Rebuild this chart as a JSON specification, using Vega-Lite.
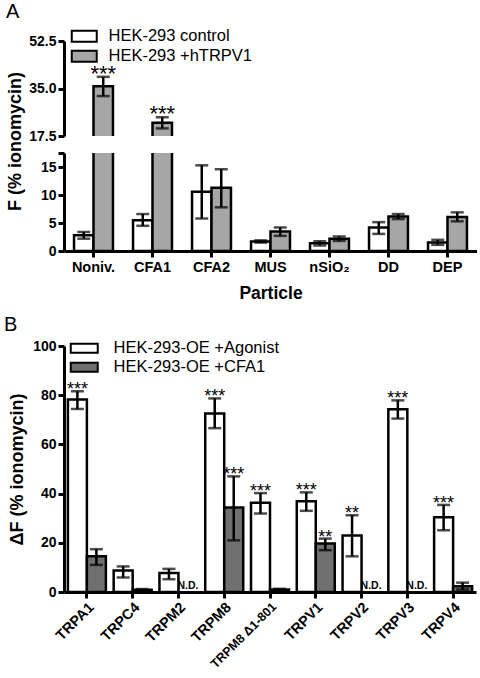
{
  "$schema": "https://vega.github.io/schema/vega-lite/v6.json",
  "background": "white",
  "padding": {"left": 4, "top": 2, "right": 0, "bottom": 0},
  "config": {
    "view": {"stroke": null},
    "font": "Liberation Sans",
    "axis": {
      "domainColor": "black", "domainWidth": 3, "tickColor": "black", "tickWidth": 3, "tickSize": 6,
      "labelColor": "black", "labelFont": "Liberation Sans", "labelFontWeight": "bold", "labelFontSize": 14,
      "titleColor": "black", "titleFont": "Liberation Sans", "titleFontWeight": "bold", "titleFontSize": 18,
      "grid": false, "labelPadding": 2, "labelOverlap": false
    },
    "axisY": {"minExtent": 36, "maxExtent": 36, "labelOverlap": false},
    "tick": {"thickness": 2.5},
    "title": {"font": "Liberation Sans", "fontWeight": "normal", "fontSize": 20, "color": "black", "anchor": "start", "frame": "group"}
  },
  "datasets": {
    "a": [
      {"cat": "Noniv.", "grp": "HEK-293 control", "mean": 2.8, "lo": 2.2, "hi": 3.4, "sig": ""},
      {"cat": "Noniv.", "grp": "HEK-293 +hTRPV1", "mean": 35.8, "lo": 32.2, "hi": 39.3, "sig": "***"},
      {"cat": "CFA1", "grp": "HEK-293 control", "mean": 5.5, "lo": 4.5, "hi": 6.6, "sig": ""},
      {"cat": "CFA1", "grp": "HEK-293 +hTRPV1", "mean": 22.4, "lo": 20.3, "hi": 24.4, "sig": "***"},
      {"cat": "CFA2", "grp": "HEK-293 control", "mean": 10.6, "lo": 5.8, "hi": 15.3, "sig": ""},
      {"cat": "CFA2", "grp": "HEK-293 +hTRPV1", "mean": 11.3, "lo": 7.8, "hi": 14.6, "sig": ""},
      {"cat": "MUS", "grp": "HEK-293 control", "mean": 1.7, "lo": 1.5, "hi": 1.9, "sig": ""},
      {"cat": "MUS", "grp": "HEK-293 +hTRPV1", "mean": 3.5, "lo": 2.7, "hi": 4.2, "sig": ""},
      {"cat": "nSiO₂", "grp": "HEK-293 control", "mean": 1.4, "lo": 1.0, "hi": 1.75, "sig": ""},
      {"cat": "nSiO₂", "grp": "HEK-293 +hTRPV1", "mean": 2.2, "lo": 1.8, "hi": 2.6, "sig": ""},
      {"cat": "DD", "grp": "HEK-293 control", "mean": 4.2, "lo": 3.05, "hi": 5.15, "sig": ""},
      {"cat": "DD", "grp": "HEK-293 +hTRPV1", "mean": 6.15, "lo": 5.7, "hi": 6.6, "sig": ""},
      {"cat": "DEP", "grp": "HEK-293 control", "mean": 1.5, "lo": 1.1, "hi": 2.0, "sig": ""},
      {"cat": "DEP", "grp": "HEK-293 +hTRPV1", "mean": 6.05, "lo": 5.3, "hi": 6.9, "sig": ""}
    ],
    "b": [
      {"cat": "TRPA1", "grp": "HEK-293-OE +Agonist", "mean": 78.3, "lo": 74.4, "hi": 81.6, "sig": "***", "nd": ""},
      {"cat": "TRPA1", "grp": "HEK-293-OE +CFA1", "mean": 14.5, "lo": 11.0, "hi": 17.4, "sig": "", "nd": ""},
      {"cat": "TRPC4", "grp": "HEK-293-OE +Agonist", "mean": 8.7, "lo": 5.9, "hi": 10.4, "sig": "", "nd": ""},
      {"cat": "TRPC4", "grp": "HEK-293-OE +CFA1", "mean": 0.9, "lo": 0.6, "hi": 1.2, "sig": "", "nd": ""},
      {"cat": "TRPM2", "grp": "HEK-293-OE +Agonist", "mean": 7.7, "lo": 5.2, "hi": 9.4, "sig": "", "nd": ""},
      {"cat": "TRPM2", "grp": "HEK-293-OE +CFA1", "mean": null, "lo": null, "hi": null, "sig": "", "nd": "N.D."},
      {"cat": "TRPM8", "grp": "HEK-293-OE +Agonist", "mean": 72.6, "lo": 66.6, "hi": 78.7, "sig": "***", "nd": ""},
      {"cat": "TRPM8", "grp": "HEK-293-OE +CFA1", "mean": 34.3, "lo": 21.0, "hi": 47.0, "sig": "***", "nd": ""},
      {"cat": "TRPM8 Δ1-801", "grp": "HEK-293-OE +Agonist", "mean": 36.3, "lo": 31.9, "hi": 40.2, "sig": "***", "nd": ""},
      {"cat": "TRPM8 Δ1-801", "grp": "HEK-293-OE +CFA1", "mean": 1.0, "lo": 0.7, "hi": 1.3, "sig": "", "nd": ""},
      {"cat": "TRPV1", "grp": "HEK-293-OE +Agonist", "mean": 36.9, "lo": 33.0, "hi": 40.5, "sig": "***", "nd": ""},
      {"cat": "TRPV1", "grp": "HEK-293-OE +CFA1", "mean": 19.7, "lo": 17.0, "hi": 21.7, "sig": "**", "nd": ""},
      {"cat": "TRPV2", "grp": "HEK-293-OE +Agonist", "mean": 23.0, "lo": 14.5, "hi": 31.2, "sig": "**", "nd": ""},
      {"cat": "TRPV2", "grp": "HEK-293-OE +CFA1", "mean": null, "lo": null, "hi": null, "sig": "", "nd": "N.D."},
      {"cat": "TRPV3", "grp": "HEK-293-OE +Agonist", "mean": 74.3, "lo": 70.5, "hi": 77.9, "sig": "***", "nd": ""},
      {"cat": "TRPV3", "grp": "HEK-293-OE +CFA1", "mean": null, "lo": null, "hi": null, "sig": "", "nd": "N.D."},
      {"cat": "TRPV4", "grp": "HEK-293-OE +Agonist", "mean": 30.4, "lo": 25.1, "hi": 35.4, "sig": "***", "nd": ""},
      {"cat": "TRPV4", "grp": "HEK-293-OE +CFA1", "mean": 2.3, "lo": 1.0, "hi": 3.8, "sig": "", "nd": ""}
    ]
  },
  "spacing": 13,
  "resolve": {"scale": {"x": "independent", "y": "independent", "fill": "independent", "xOffset": "independent"}},
  "vconcat": [
    {
      "spacing": 17,
      "bounds": "flush",
      "resolve": {"scale": {"x": "independent", "y": "independent", "fill": "independent", "xOffset": "independent"}},
      "vconcat": [
        {
          "width": 413, "height": 95,
          "title": {"text": "A", "dx": -58, "offset": 6},
          "data": {"name": "a"},
          "encoding": {
            "x": {"field": "cat", "type": "nominal", "sort": null, "scale": {"paddingInner": 0.34, "paddingOuter": 0.17}, "axis": null},
            "xOffset": {"field": "grp", "type": "nominal", "sort": null, "scale": {"paddingInner": 0, "paddingOuter": 0}}
          },
          "layer": [
            {
              "mark": {"type": "bar", "stroke": "black", "strokeWidth": 2.5, "clip": true},
              "encoding": {
                "y": {"field": "mean", "type": "quantitative", "scale": {"domain": [17.5, 52.5], "nice": false, "zero": false},
                  "axis": {"values": [17.5, 35, 52.5], "format": ".1f", "labelOverlap": false, "title": "F (% ionomycin)", "titleY": 100, "titlePadding": 4}},
                "fill": {"field": "grp", "type": "nominal", "sort": null,
                  "scale": {"range": ["white", "#a6a6a6"]},
                  "legend": {"orient": "none", "legendX": 12, "legendY": -13, "title": null, "labelLimit": 0,
                    "symbolType": "M-2,-0.88H2V0.88H-2Z", "symbolSize": 156, "symbolStrokeColor": "black", "symbolStrokeWidth": 2,
                    "labelFont": "Liberation Sans", "labelFontSize": 16.5, "labelColor": "black", "labelOffset": 16, "rowPadding": 0}}
              }
            },
            {
              "mark": {"type": "rule", "color": "black", "strokeWidth": 2.5, "clip": true},
              "encoding": {"y": {"field": "lo", "type": "quantitative",
                  "axis": {"values": [17.5, 35, 52.5], "format": ".1f", "labelOverlap": false, "title": "F (% ionomycin)", "titleY": 100, "titlePadding": 4}},
                "y2": {"field": "hi"}}
            },
            {
              "mark": {"type": "tick", "color": "black", "size": 13, "clip": true},
              "encoding": {"y": {"field": "hi", "type": "quantitative",
                  "axis": {"values": [17.5, 35, 52.5], "format": ".1f", "labelOverlap": false, "title": "F (% ionomycin)", "titleY": 100, "titlePadding": 4}}}
            },
            {
              "mark": {"type": "tick", "color": "black", "size": 13, "clip": true},
              "encoding": {"y": {"field": "lo", "type": "quantitative",
                  "axis": {"values": [17.5, 35, 52.5], "format": ".1f", "labelOverlap": false, "title": "F (% ionomycin)", "titleY": 100, "titlePadding": 4}}}
            },
            {
              "transform": [{"filter": "datum.sig !== ''"}],
              "mark": {"type": "text", "color": "black", "fontSize": 22, "baseline": "alphabetic", "dy": 4, "font": "Liberation Sans"},
              "encoding": {"y": {"field": "hi", "type": "quantitative",
                  "axis": {"values": [17.5, 35, 52.5], "format": ".1f", "labelOverlap": false, "title": "F (% ionomycin)", "titleY": 100, "titlePadding": 4}},
                "text": {"field": "sig"}}
            }
          ]
        },
        {
          "width": 413, "height": 98,
          "data": {"name": "a"},
          "encoding": {
            "x": {"field": "cat", "type": "nominal", "sort": null, "scale": {"paddingInner": 0.34, "paddingOuter": 0.17},
              "axis": {"labelAngle": 0, "title": "Particle", "titleFontSize": 17.5, "titlePadding": 11, "labelPadding": 3, "labelFontSize": 14.5}},
            "xOffset": {"field": "grp", "type": "nominal", "sort": null, "scale": {"paddingInner": 0, "paddingOuter": 0}}
          },
          "layer": [
            {
              "mark": {"type": "bar", "stroke": "black", "strokeWidth": 2.5, "clip": true},
              "encoding": {
                "y": {"field": "mean", "type": "quantitative", "scale": {"domain": [0, 17.5], "nice": false},
                  "axis": {"values": [0, 5, 10, 15, 17.5], "labelExpr": "datum.value > 16 ? '' : format(datum.value, 'd')", "labelOverlap": false, "title": null}},
                "fill": {"field": "grp", "type": "nominal", "sort": null, "scale": {"range": ["white", "#a6a6a6"]}, "legend": null}
              }
            },
            {
              "mark": {"type": "rule", "color": "black", "strokeWidth": 2.5, "clip": true},
              "encoding": {"y": {"field": "lo", "type": "quantitative",
                  "axis": {"values": [0, 5, 10, 15, 17.5], "labelExpr": "datum.value > 16 ? '' : format(datum.value, 'd')", "labelOverlap": false, "title": null}},
                "y2": {"field": "hi"}}
            },
            {
              "mark": {"type": "tick", "color": "black", "size": 13, "clip": true},
              "encoding": {"y": {"field": "hi", "type": "quantitative",
                  "axis": {"values": [0, 5, 10, 15, 17.5], "labelExpr": "datum.value > 16 ? '' : format(datum.value, 'd')", "labelOverlap": false, "title": null}}}
            },
            {
              "mark": {"type": "tick", "color": "black", "size": 13, "clip": true},
              "encoding": {"y": {"field": "lo", "type": "quantitative",
                  "axis": {"values": [0, 5, 10, 15, 17.5], "labelExpr": "datum.value > 16 ? '' : format(datum.value, 'd')", "labelOverlap": false, "title": null}}}
            }
          ]
        }
      ]
    },
    {
      "width": 412, "height": 246,
      "title": {"text": "B", "dx": -60, "offset": 4},
      "data": {"name": "b"},
      "encoding": {
        "x": {"field": "cat", "type": "nominal", "sort": null, "scale": {"paddingInner": 0.17, "paddingOuter": 0.085},
          "axis": {"labelAngle": -45, "labelAlign": "right", "labelBaseline": "top", "title": null, "labelPadding": 2,
            "labelFontSize": {"condition": {"test": "datum.value === 'TRPM8 Δ1-801'", "value": 12.5}, "value": 14.5}}},
        "xOffset": {"field": "grp", "type": "nominal", "sort": null, "scale": {"paddingInner": 0, "paddingOuter": 0}}
      },
      "layer": [
        {
          "mark": {"type": "bar", "stroke": "black", "strokeWidth": 2.5},
          "encoding": {
            "y": {"field": "mean", "type": "quantitative", "scale": {"domain": [0, 100], "nice": false},
              "axis": {"values": [0, 20, 40, 60, 80, 100], "labelOverlap": false, "title": "ΔF (% ionomycin)", "titlePadding": 2}},
            "fill": {"field": "grp", "type": "nominal", "sort": null,
              "scale": {"range": ["white", "#707070"]},
              "legend": {"orient": "none", "legendX": 12, "legendY": -6, "title": null, "labelLimit": 0,
                "symbolType": "M-2,-0.66H2V0.66H-2Z", "symbolSize": 182, "symbolStrokeColor": "black", "symbolStrokeWidth": 2,
                "labelFont": "Liberation Sans", "labelFontSize": 16.5, "labelColor": "black", "labelOffset": 21, "rowPadding": 1}}
          }
        },
        {
          "mark": {"type": "rule", "color": "black", "strokeWidth": 2.5},
          "encoding": {"y": {"field": "lo", "type": "quantitative",
              "axis": {"values": [0, 20, 40, 60, 80, 100], "labelOverlap": false, "title": "ΔF (% ionomycin)", "titlePadding": 2}},
            "y2": {"field": "hi"}}
        },
        {
          "mark": {"type": "tick", "color": "black", "size": 13},
          "encoding": {"y": {"field": "hi", "type": "quantitative",
              "axis": {"values": [0, 20, 40, 60, 80, 100], "labelOverlap": false, "title": "ΔF (% ionomycin)", "titlePadding": 2}}}
        },
        {
          "mark": {"type": "tick", "color": "black", "size": 13},
          "encoding": {"y": {"field": "lo", "type": "quantitative",
              "axis": {"values": [0, 20, 40, 60, 80, 100], "labelOverlap": false, "title": "ΔF (% ionomycin)", "titlePadding": 2}}}
        },
        {
          "transform": [{"filter": "datum.sig !== ''"}],
          "mark": {"type": "text", "color": "black", "fontSize": 18, "baseline": "alphabetic", "dy": 4, "font": "Liberation Sans"},
          "encoding": {"y": {"field": "hi", "type": "quantitative",
              "axis": {"values": [0, 20, 40, 60, 80, 100], "labelOverlap": false, "title": "ΔF (% ionomycin)", "titlePadding": 2}},
            "text": {"field": "sig"}}
        },
        {
          "transform": [{"filter": "datum.nd === 'N.D.'"}],
          "mark": {"type": "text", "color": "black", "fontSize": 10.5, "fontWeight": "bold", "baseline": "alphabetic", "dy": -3, "font": "Liberation Sans"},
          "encoding": {"y": {"datum": 0}, "text": {"field": "nd"}}
        }
      ]
    }
  ]
}
